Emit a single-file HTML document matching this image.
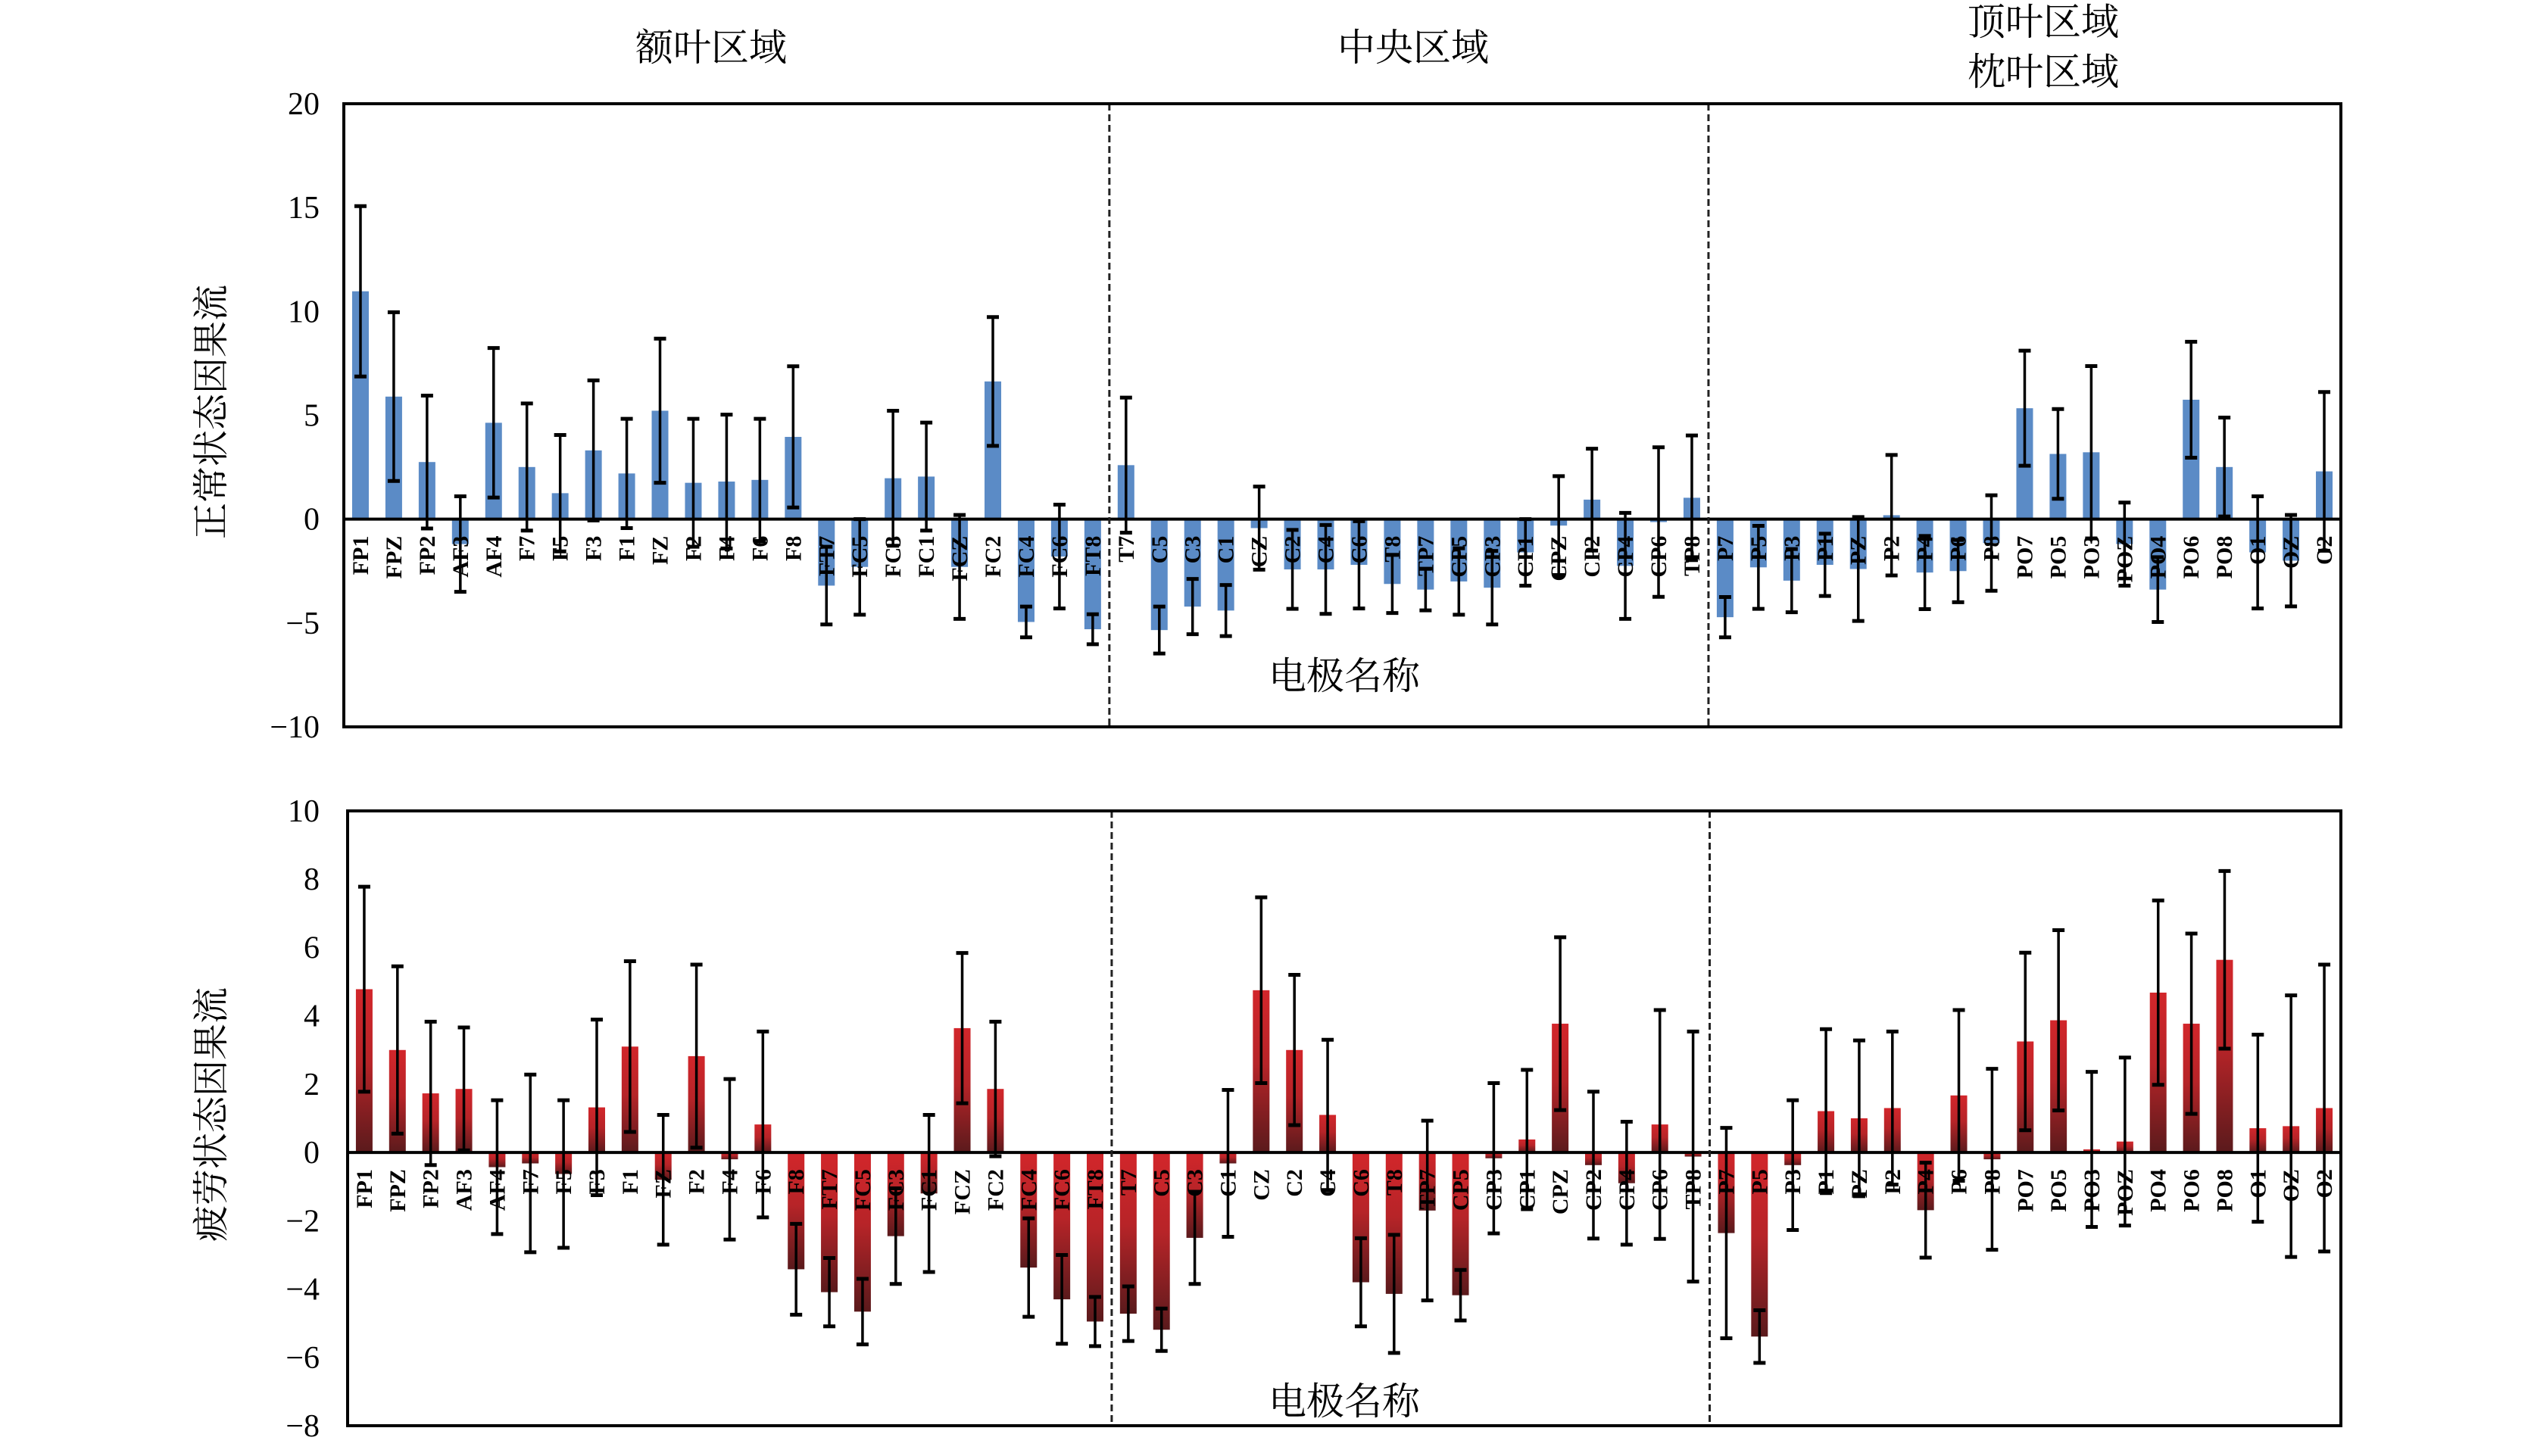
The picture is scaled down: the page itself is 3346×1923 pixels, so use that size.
<!DOCTYPE html>
<html><head><meta charset="utf-8"><style>
html,body{margin:0;padding:0;background:#fff;}
svg{display:block;}
text{font-family:"Liberation Serif","Noto Serif CJK SC","Noto Sans CJK SC",serif;}
.cjk{font-family:"Noto Serif CJK SC","Noto Sans CJK SC",serif;}
</style></head><body>
<svg id="chart" width="3346" height="1923" viewBox="0 0 3346 1923" xmlns="http://www.w3.org/2000/svg">
<defs>
<linearGradient id="redGrad" x1="0" y1="0" x2="0" y2="1">
<stop offset="0" stop-color="#d2262b"/><stop offset="0.45" stop-color="#b72428"/><stop offset="1" stop-color="#5a1a1c"/>
</linearGradient>
</defs>
<text class="cjk" x="939" y="80" font-size="50" text-anchor="middle">额叶区域</text>
<text class="cjk" x="1866" y="80" font-size="50" text-anchor="middle">中央区域</text>
<text class="cjk" x="2698" y="46" font-size="50" text-anchor="middle">顶叶区域</text>
<text class="cjk" x="2698" y="112" font-size="50" text-anchor="middle">枕叶区域</text>
<g id="top"></g>
<g id="bot"></g>
</svg>
<script>
const labels = ["FP1","FPZ","FP2","AF3","AF4","F7","F5","F3","F1","FZ","F2","F4","F6","F8","FT7","FC5","FC3","FC1","FCZ","FC2","FC4","FC6","FT8","T7","C5","C3","C1","CZ","C2","C4","C6","T8","TP7","CP5","CP3","CP1","CPZ","CP2","CP4","CP6","TP8","P7","P5","P3","P1","PZ","P2","P4","P6","P8","PO7","PO5","PO3","POZ","PO4","PO6","PO8","O1","OZ","O2"];
const normVals = [10.97,5.9,2.75,-1.2,4.64,2.51,1.25,3.31,2.2,5.22,1.75,1.81,1.89,3.96,-3.2,-2.3,1.97,2.05,-2.3,6.63,-4.95,-1.8,-5.3,2.6,-5.34,-4.21,-4.4,-0.43,-2.42,-2.42,-2.2,-3.12,-3.39,-3.0,-3.3,-1.6,-0.31,0.94,-2.25,-0.14,1.03,-4.72,-2.32,-2.96,-2.2,-2.4,0.19,-2.57,-2.5,-1.15,5.34,3.14,3.22,-1.2,-3.39,5.75,2.51,-1.6,-2.0,2.3];
const normErr = [4.1,4.06,3.2,2.3,3.6,3.06,2.8,3.37,2.63,3.47,3.08,3.22,2.94,3.4,1.87,2.3,3.25,2.6,2.5,3.1,0.74,2.5,0.72,3.25,1.13,1.33,1.23,2.0,1.9,2.14,2.1,1.4,1.0,1.6,1.77,1.6,2.38,2.45,2.55,3.6,3.0,0.97,2.0,1.52,1.5,2.5,2.9,1.76,1.5,2.3,2.77,2.16,4.15,2.0,1.56,2.79,2.38,2.7,2.2,3.82];
const fatVals = [4.78,3.0,1.73,1.86,-0.43,-0.32,-0.63,1.32,3.1,-0.8,2.82,-0.2,0.82,-3.42,-4.09,-4.66,-2.45,-1.2,3.64,1.86,-3.37,-4.3,-4.95,-4.72,-5.19,-2.5,-0.32,4.75,3.0,1.1,-3.8,-4.14,-1.7,-4.18,-0.17,0.38,3.77,-0.37,-0.9,0.82,-0.12,-2.36,-5.39,-0.37,1.21,1.0,1.3,-1.69,1.67,-0.2,3.25,3.87,0.09,0.32,4.68,3.77,5.64,0.71,0.77,1.3];
const fatErr = [3.0,2.45,2.1,1.8,1.96,2.6,2.16,2.57,2.5,1.9,2.68,2.35,2.72,1.33,1.0,0.96,1.4,2.3,2.2,1.97,1.44,1.3,0.72,0.8,0.62,1.35,2.15,2.72,2.2,2.2,1.29,1.73,2.63,0.74,2.2,2.04,2.53,2.15,1.8,3.35,3.66,3.08,0.77,1.9,2.4,2.28,2.24,1.39,2.5,2.65,2.6,2.64,2.27,2.46,2.7,2.64,2.6,2.74,3.83,4.2];
const topTicks = [20,15,10,5,0,-5,-10];
const botTicks = [10,8,6,4,2,0,-2,-4,-6,-8];
const regionSplits = [23,41];

const NS = "http://www.w3.org/2000/svg";
function mk(parent, tag, attrs){
  const e = document.createElementNS(NS, tag);
  for (const k in attrs) e.setAttribute(k, attrs[k]);
  parent.appendChild(e);
  return e;
}
function drawPanel(g, cfg){
  const {x0,x1,y0,y1,ymax,ymin,vals,errs,ticks,fill,title,titleY,xTitleY,prefix} = cfg;
  const yS = v => y0 + (ymax - v) / (ymax - ymin) * (y1 - y0);
  const slot = (x1 - x0) / labels.length;
  const xC = i => x0 + slot * (i + 0.5);
  const zero = yS(0);
  // y ticks
  ticks.forEach(t => {
    const tx = mk(g, "text", {x: 422, y: yS(t) + 14, "font-size": 42, "text-anchor": "end"});
    
    
    tx.textContent = t < 0 ? "\u2212" + Math.abs(t) : String(t);
  });
  // bars
  vals.forEach((v, i) => {
    const top = Math.min(yS(v), zero), h = Math.abs(yS(v) - zero);
    const r = mk(g, "rect", {x: xC(i) - 11, y: top, width: 22, height: h, fill: fill});
    
    
  });
  // labels
  labels.forEach((l, i) => {
    const ly = zero + 22;
    const t = mk(g, "text", {x: xC(i) + 10, y: ly, "font-size": 30, "font-weight": "bold", "text-anchor": "end", transform: "rotate(-90 " + (xC(i) + 10) + " " + ly + ")"});
    
    
    t.textContent = l;
  });
  // error bars
  vals.forEach((v, i) => {
    const a = yS(v + errs[i]), b = yS(v - errs[i]), cx = xC(i);
    const eg = mk(g, "g", {stroke: "#000", "stroke-width": 3.5});
    
    
    mk(eg, "line", {x1: cx, x2: cx, y1: a, y2: b});
    mk(eg, "line", {x1: cx - 8, x2: cx + 8, y1: a, y2: a, "stroke-width": 5});
    mk(eg, "line", {x1: cx - 8, x2: cx + 8, y1: b, y2: b, "stroke-width": 5});
  });
  // zero line
  const zl = mk(g, "line", {x1: x0, x2: x1, y1: zero, y2: zero, stroke: "#000", "stroke-width": 4});
  
  
  // region dividers
  regionSplits.forEach(s => {
    const dx = x0 + slot * s;
    const d = mk(g, "line", {x1: dx, x2: dx, y1: y0, y2: y1, stroke: "#222", "stroke-width": 3, "stroke-dasharray": "9 5"});
    
    
  });
  // frame
  const f = mk(g, "rect", {x: x0, y: y0, width: x1 - x0, height: y1 - y0, fill: "none", stroke: "#000", "stroke-width": 4});
  
  
  // titles
  const yt = mk(g, "text", {x: 0, y: 0, "font-size": 48, "text-anchor": "middle", "class": "cjk", transform: "translate(295 " + titleY + ") rotate(-90)"});
  
  
  yt.textContent = title;
  const xt = mk(g, "text", {x: 1775, y: xTitleY, "font-size": 50, "text-anchor": "middle", "class": "cjk"});
  
  
  xt.textContent = "电极名称";
}
drawPanel(document.getElementById("top"), {x0:454,x1:3091,y0:137,y1:960,ymax:20,ymin:-10,vals:normVals,errs:normErr,ticks:topTicks,fill:"#5b8bc6",title:"正常状态因果流",titleY:544,xTitleY:910,prefix:"normal"});
drawPanel(document.getElementById("bot"), {x0:459,x1:3091,y0:1071,y1:1883,ymax:10,ymin:-8,vals:fatVals,errs:fatErr,ticks:botTicks,fill:"url(#redGrad)",title:"疲劳状态因果流",titleY:1472,xTitleY:1868,prefix:"fatigue"});
</script>
</body></html>
